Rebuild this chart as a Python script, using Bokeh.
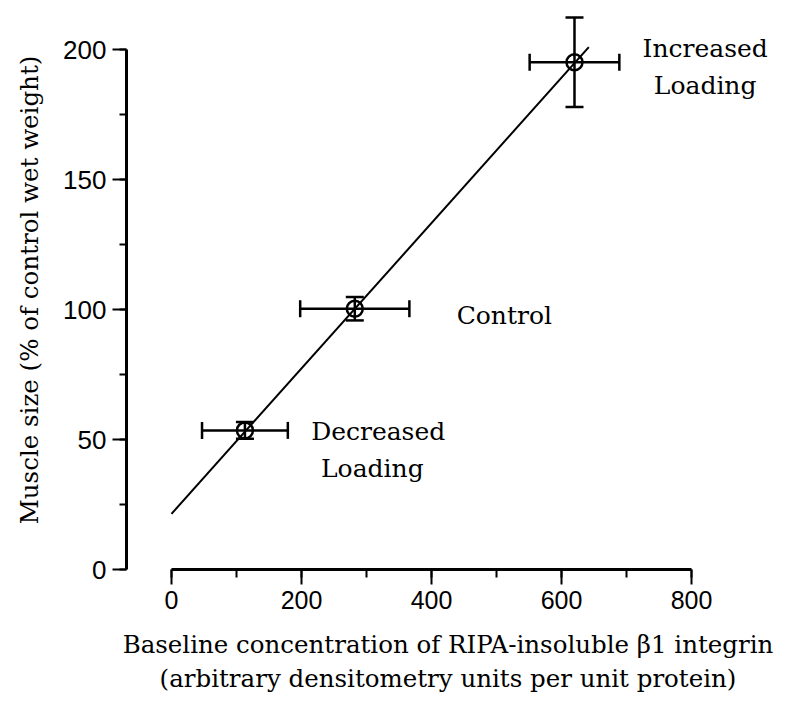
from bokeh.plotting import figure
from bokeh.models import Range1d, SingleIntervalTicker, Whisker, TeeHead, ColumnDataSource, Label
from bokeh.embed import file_html
from bokeh.resources import INLINE

# ---- data ----
groups = ["Decreased Loading", "Control", "Increased Loading"]
integrin = [113, 282, 620]
integrin_err = [66, 84, 69]
muscle = [53.5, 100.3, 195.1]
muscle_err = [3.2, 4.5, 17.2]
fit_x = [0, 642]
fit_y = [21.4, 200.9]
x_ticks_interval = 200
y_ticks_interval = 50

SERIF = "DejaVu Serif"
SANS = "Liberation Sans"

src = ColumnDataSource(dict(
    x=integrin, y=muscle,
    xl=[a - e for a, e in zip(integrin, integrin_err)],
    xu=[a + e for a, e in zip(integrin, integrin_err)],
    yl=[a - e for a, e in zip(muscle, muscle_err)],
    yu=[a + e for a, e in zip(muscle, muscle_err)],
))

p = figure(width=789, height=711, output_backend="svg", toolbar_location=None,
           x_range=Range1d(-69.2, 920), y_range=Range1d(0, 215),
           min_border_left=126, min_border_right=20, min_border_top=10, min_border_bottom=142)
p.outline_line_color = None
p.xgrid.visible = False
p.ygrid.visible = False
p.background_fill_color = "white"
p.border_fill_color = "white"

xa = p.xaxis[0]
ya = p.yaxis[0]
xa.ticker = SingleIntervalTicker(interval=x_ticks_interval, num_minor_ticks=2)
ya.ticker = SingleIntervalTicker(interval=y_ticks_interval, num_minor_ticks=2)
xa.bounds = (0, 800)
ya.bounds = (0, 200)
for ax in (xa, ya):
    ax.axis_line_width = 3
    ax.axis_line_color = "black"
    ax.major_tick_line_width = 2
    ax.minor_tick_line_width = 2
    ax.major_tick_line_color = "black"
    ax.minor_tick_line_color = "black"
    ax.major_tick_in = 0
    ax.minor_tick_in = 0
    ax.major_label_text_font = SANS
    ax.major_label_text_color = "black"
    ax.axis_label_text_font = SERIF
    ax.axis_label_text_font_style = "normal"
    ax.axis_label_text_color = "black"
    ax.axis_label_text_font_size = "24.5px"

xa.major_tick_out = 15
xa.minor_tick_out = 8
xa.major_label_text_font_size = "25px"
xa.major_label_standoff = 6
xa.axis_label = "Baseline concentration of RIPA-insoluble \u03b21 integrin\n(arbitrary densitometry units per unit protein)"
xa.axis_label_standoff = 18

ya.major_tick_out = 14
ya.minor_tick_out = 7
ya.major_label_text_font_size = "26px"
ya.major_label_standoff = 6
ya.axis_label = "Muscle size (% of control wet weight)"
ya.axis_label_standoff = 16

# regression line
p.line(fit_x, fit_y, line_color="black", line_width=2)

# error bars
p.add_layout(Whisker(source=src, base="y", lower="xl", upper="xu", dimension="width",
                     line_color="black", line_width=2.5,
                     lower_head=TeeHead(size=17, line_width=2.5, line_color="black"),
                     upper_head=TeeHead(size=17, line_width=2.5, line_color="black")))
p.add_layout(Whisker(source=src, base="x", lower="yl", upper="yu", dimension="height",
                     line_color="black", line_width=2.5,
                     lower_head=TeeHead(size=18, line_width=2.5, line_color="black"),
                     upper_head=TeeHead(size=18, line_width=2.5, line_color="black")))

# points
p.scatter("x", "y", source=src, marker="circle", size=16, fill_color=None,
          line_color="black", line_width=2.5)

def lab(x, y, t):
    p.add_layout(Label(x=x, y=y, text=t, text_align="center", text_baseline="alphabetic",
                       text_font=SERIF, text_font_size="25px", text_color="black"))

lab(821, 200.4, "Increased")
lab(821, 186.2, "Loading")
lab(512, 97.7, "Control")
lab(318, 53.1, "Decreased")
lab(309, 38.8, "Loading")

open("out.html", "w").write(file_html(p, INLINE))
